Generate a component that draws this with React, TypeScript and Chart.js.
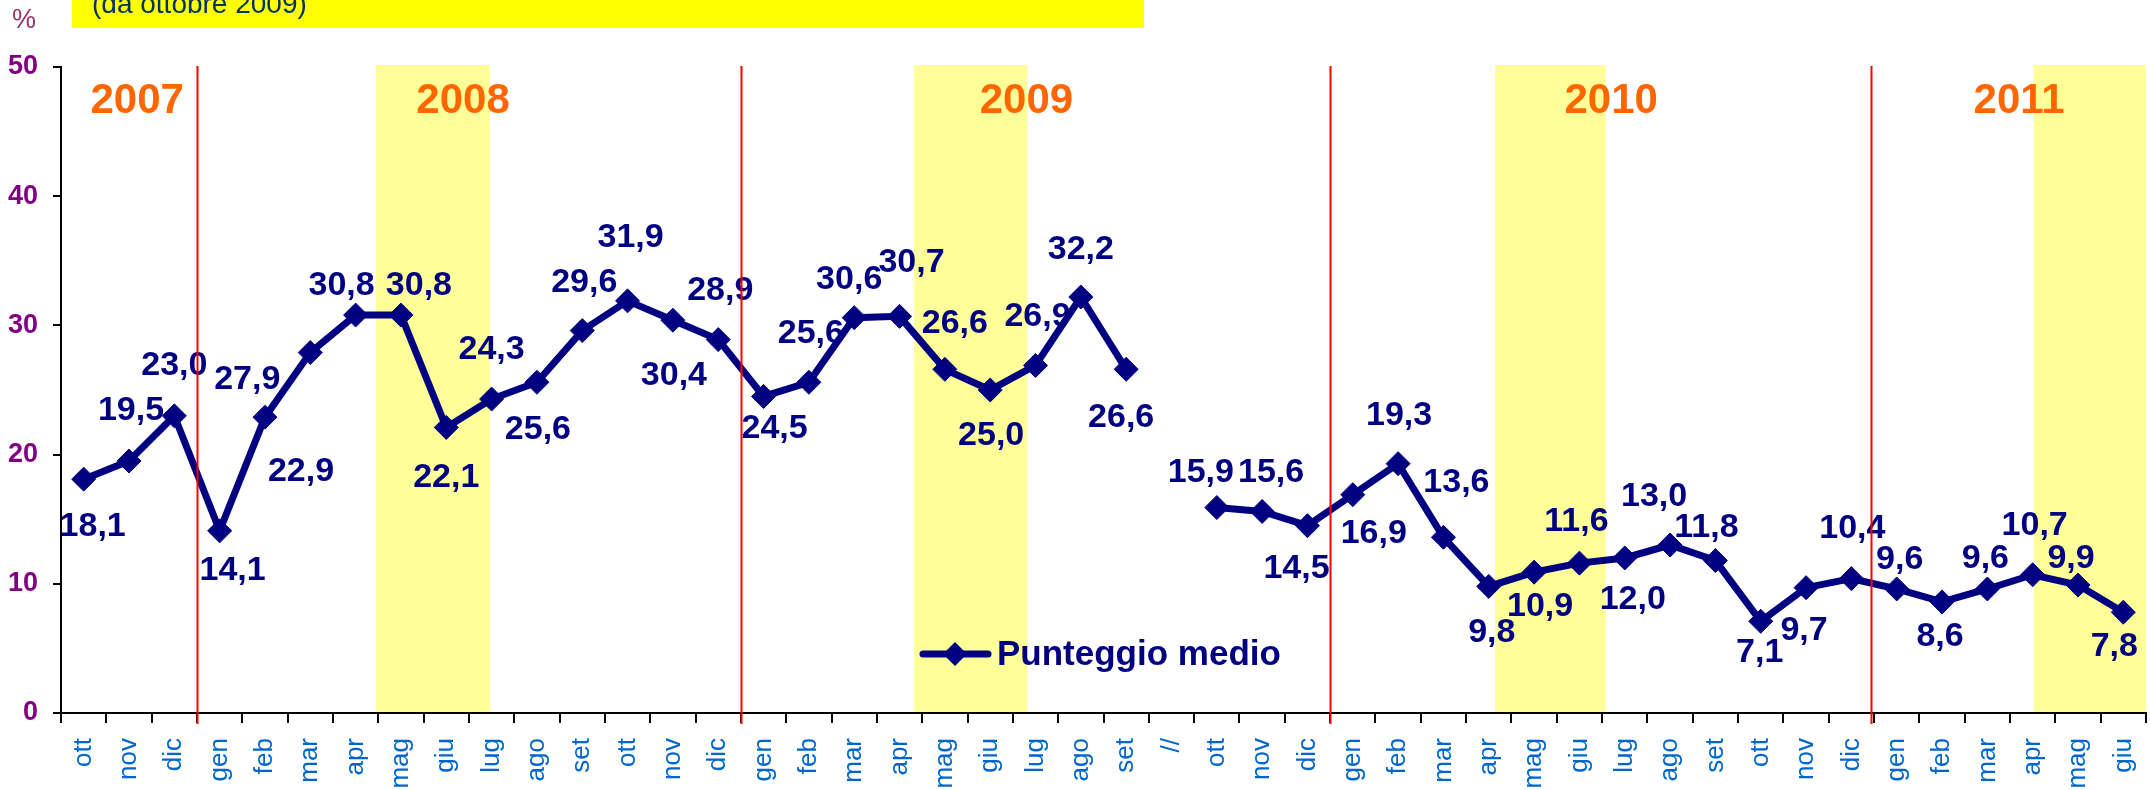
import React, { useEffect, useRef } from 'react';
import { Chart, registerables } from 'chart.js';

Chart.register(...registerables);

// ---- Data ----
const monthLabels = [
  'ott', 'nov', 'dic',
  'gen', 'feb', 'mar', 'apr', 'mag', 'giu', 'lug', 'ago', 'set', 'ott', 'nov', 'dic',
  'gen', 'feb', 'mar', 'apr', 'mag', 'giu', 'lug', 'ago', 'set',
  '//',
  'ott', 'nov', 'dic',
  'gen', 'feb', 'mar', 'apr', 'mag', 'giu', 'lug', 'ago', 'set', 'ott', 'nov', 'dic',
  'gen', 'feb', 'mar', 'apr', 'mag', 'giu',
];

const punteggioMedio: (number | null)[] = [
  18.1, 19.5, 23.0,
  14.1, 22.9, 27.9, 30.8, 30.8, 22.1, 24.3, 25.6, 29.6, 31.9, 30.4, 28.9,
  24.5, 25.6, 30.6, 30.7, 26.6, 25.0, 26.9, 32.2, 26.6,
  null,
  15.9, 15.6, 14.5,
  16.9, 19.3, 13.6, 9.8, 10.9, 11.6, 12.0, 13.0, 11.8, 7.1, 9.7, 10.4,
  9.6, 8.6, 9.6, 10.7, 9.9, 7.8,
];

const seriesName = 'Punteggio medio';
const yTicks = [0, 10, 20, 30, 40, 50];
const years = ['2007', '2008', '2009', '2010', '2011'];
const subtitle = '(da ottobre 2009)';
const unitLabel = '%';

// ---- Annotation layout (category boundary units) ----
const yearLabelPos = [1.68, 8.87, 21.3, 34.2, 43.2];
const yearDividers = [3, 15, 28, 39.93];
const highlightBands: [number, number][] = [
  [6.95, 9.46],
  [18.82, 21.32],
  [31.64, 34.08],
  [43.52, 46],
];
// data label offsets (px) relative to each point
const labelOffsets: ([number, number] | null)[] = [
  [9, 47], [2, -50], [0, -50],
  [13, 40], [36, 54], [-63, 27], [-14, -29], [18, -29], [0, 50], [0, -49], [1, 47], [2, -48], [3, -63], [1, 55], [2, -49],
  [11, 32], [2, -49], [-5, -38], [12, -54], [10, -46], [1, 46], [2, -49], [0, -47], [-5, 48],
  null,
  [-16, -35], [9, -39], [-11, 43],
  [21, 39], [1, -48], [13, -55], [3, 46], [6, 34], [-3, -42], [8, 42], [-16, -48], [-9, -33], [-1, 31], [-2, 43], [1, -50],
  [3, -29], [-2, 35], [-2, -30], [2, -49], [-7, -26], [-9, 34],
];

const FONT = '"Liberation Sans", Arial, Helvetica, sans-serif';
const NAVY = '#000080';

const fmt = (v: number) => v.toFixed(1).replace('.', ',');

const overlayPlugin = {
  id: 'overlayPlugin',
  beforeDraw(chart: any) {
    const { ctx, chartArea } = chart;
    const x = chart.scales.x;
    const bx = (b: number) => x.getPixelForValue(b - 0.5);
    ctx.save();
    // title box
    ctx.fillStyle = '#FFFF00';
    ctx.fillRect(72, 0, 1072, 28);
    ctx.fillStyle = '#003366';
    ctx.font = `28px ${FONT}`;
    ctx.textAlign = 'left';
    ctx.textBaseline = 'alphabetic';
    ctx.fillText(subtitle, 92, 13);
    // unit
    ctx.fillStyle = '#993366';
    ctx.font = `27px ${FONT}`;
    ctx.fillText(unitLabel, 12, 28);
    // bands
    ctx.fillStyle = '#FFFF99';
    highlightBands.forEach(([a, b]) => {
      const x1 = bx(a);
      const x2 = Math.min(bx(b), chartArea.right);
      ctx.fillRect(x1, chartArea.top - 2, x2 - x1, chartArea.bottom - chartArea.top + 2);
    });
    // year labels
    ctx.fillStyle = '#FF6600';
    ctx.font = `bold 42px ${FONT}`;
    ctx.textAlign = 'center';
    ctx.textBaseline = 'middle';
    years.forEach((yr, i) => {
      ctx.fillText(yr, bx(yearLabelPos[i]), chartArea.top + 34);
    });
    ctx.restore();
  },
  afterDatasetsDraw(chart: any) {
    const { ctx, chartArea } = chart;
    const x = chart.scales.x;
    const bx = (b: number) => x.getPixelForValue(b - 0.5);
    const meta = chart.getDatasetMeta(0);
    ctx.save();
    // data labels
    ctx.fillStyle = NAVY;
    ctx.font = `bold 34px ${FONT}`;
    ctx.textAlign = 'center';
    ctx.textBaseline = 'middle';
    punteggioMedio.forEach((v, i) => {
      const off = labelOffsets[i];
      if (v === null || !off) return;
      const el = meta.data[i];
      ctx.fillText(fmt(v), el.x + off[0], el.y + off[1]);
    });
    // legend
    const ly = 654;
    ctx.strokeStyle = NAVY;
    ctx.lineWidth = 7;
    ctx.lineCap = 'round';
    ctx.beginPath();
    ctx.moveTo(923, ly);
    ctx.lineTo(988, ly);
    ctx.stroke();
    ctx.beginPath();
    ctx.moveTo(955 - 12, ly);
    ctx.lineTo(955, ly - 12);
    ctx.lineTo(955 + 12, ly);
    ctx.lineTo(955, ly + 12);
    ctx.closePath();
    ctx.fill();
    ctx.textAlign = 'left';
    ctx.font = `bold 35px ${FONT}`;
    ctx.fillText(seriesName, 997, ly + 1);
    // year dividers
    ctx.strokeStyle = '#FF0000';
    ctx.lineWidth = 2;
    ctx.lineCap = 'butt';
    yearDividers.forEach((b) => {
      const px = Math.round(bx(b)) + 0.5;
      ctx.beginPath();
      ctx.moveTo(px, chartArea.top - 1);
      ctx.lineTo(px, chartArea.bottom + 11);
      ctx.stroke();
    });
    ctx.restore();
  },
};

export default function App() {
  const canvasRef = useRef<HTMLCanvasElement | null>(null);

  useEffect(() => {
    if (!canvasRef.current) return;
    const chart = new Chart(canvasRef.current, {
      type: 'line',
      data: {
        labels: monthLabels,
        datasets: [
          {
            label: seriesName,
            data: punteggioMedio,
            borderColor: NAVY,
            backgroundColor: NAVY,
            borderWidth: 7,
            pointStyle: 'rectRot',
            pointRadius: 12,
            pointHoverRadius: 12,
            pointBackgroundColor: NAVY,
            pointBorderColor: NAVY,
            pointBorderWidth: 1,
            tension: 0,
            spanGaps: false,
            clip: false as any,
          },
        ],
      },
      options: {
        responsive: false,
        animation: false,
        devicePixelRatio: 1,
        layout: { autoPadding: false, padding: { top: 67, right: 4, left: 0, bottom: 0 } },
        plugins: {
          legend: { display: false },
          tooltip: { enabled: false },
          title: { display: false },
        },
        scales: {
          x: {
            type: 'category',
            offset: true,
            grid: {
              offset: true,
              drawOnChartArea: false,
              drawTicks: true,
              tickLength: 10,
              color: '#000000',
              lineWidth: 2,
            },
            border: { display: true, color: '#000000', width: 2 },
            ticks: {
              autoSkip: false,
              maxRotation: 90,
              minRotation: 90,
              color: '#0066CC',
              font: { family: FONT, size: 26 },
              padding: 15,
            },
            afterFit: (scale: any) => {
              scale.height = 77;
              scale.paddingLeft = 0;
              scale.paddingRight = 0;
            },
          },
          y: {
            min: 0,
            max: 50,
            afterBuildTicks: (scale: any) => {
              scale.ticks = yTicks.map((v) => ({ value: v }));
            },
            grid: {
              drawOnChartArea: false,
              drawTicks: true,
              tickLength: 8,
              color: '#000000',
              lineWidth: 2,
            },
            border: { display: true, color: '#000000', width: 2 },
            ticks: {
              color: '#800080',
              font: { family: FONT, size: 27, weight: 'bold' },
              padding: 15,
            },
            afterFit: (scale: any) => {
              scale.width = 61;
            },
          },
        },
      },
      plugins: [overlayPlugin],
    });
    return () => chart.destroy();
  }, []);

  return (
    <div style={{ position: 'absolute', left: 0, top: 0, width: 2150, height: 790, background: '#ffffff' }}>
      <canvas ref={canvasRef} width={2150} height={790} style={{ display: 'block' }} />
    </div>
  );
}
